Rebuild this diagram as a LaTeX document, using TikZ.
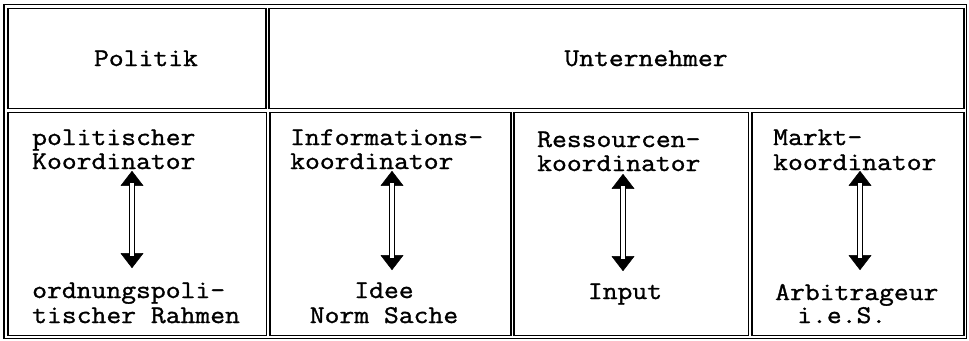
\documentclass[tikz,border=0pt]{standalone}
\usepackage{fontspec}
\newfontfamily\typewriter{Latin Modern Mono}[FakeBold=1.2,FakeStretch=1.13]
\usetikzlibrary{arrows.meta}
\begin{document}
\begin{tikzpicture}[x=1pt,y=-1pt,
  frame/.style={draw, line width=1.1pt},
  cell/.style={draw, line width=1.5pt},
  lbl/.style={font=\typewriter\fontsize{25.5}{25}\selectfont, inner sep=0pt, anchor=base west},
  lblc/.style={lbl, anchor=base},
  shaft/.style={draw, line width=1.1pt, double distance=3.6pt, shorten <=12pt, shorten >=12pt},
  heads/.style={line width=0.5pt, {Triangle[width=23pt,length=15pt,round]}-{Triangle[width=23pt,length=15pt,round]}},
]
\useasboundingbox (0,0) rectangle (969,340);

% outer frame
\draw[frame] (4,4.5) rectangle (966.5,338.5);

% header row
\draw[cell] (8,8.5) rectangle (266,108.5);
\draw[cell] (269,8.5) rectangle (964,108.5);
\node[lblc] (politik) at (146,66) {Politik};
\node[lblc] (untern) at (646,66) {Unternehmer};

% lower row
\draw[cell] (8,112.5) rectangle (266.5,335.5);
\draw[cell] (270,112.5) rectangle (511,335.5);
\draw[cell] (514,112.5) rectangle (748.5,335.5);
\draw[cell] (752,112.5) rectangle (964,335.5);

% political coordinator
\node[lbl] (a1) at (32,145) {politischer};
\node[lbl] (a2) at (32,169) {Koordinator};
\node[lbl] (a3) at (32,298) {ordnungspoli-};
\node[lbl] (a4) at (32,323) {tischer Rahmen};

% information coordinator
\node[lbl] (b1) at (290,145) {Informations-};
\node[lbl] (b2) at (290,169) {koordinator};
\node[lblc] (b3) at (384,298) {Idee};
\node[lblc] (b4) at (384,323) {Norm Sache};

% resource coordinator
\node[lbl] (c1) at (537,147) {Ressourcen-};
\node[lbl] (c2) at (537,171) {koordinator};
\node[lblc] (c3) at (625,299) {Input};

% market coordinator
\node[lbl] (d1) at (773,145) {Markt-};
\node[lbl] (d2) at (773,170) {koordinator};
\node[lbl] (d3) at (775,300) {Arbitrageur};
\node[lbl] (d4) at (797,323) {i.e.S.};

% arrow end points
\coordinate (pa1) at (132,171);
\coordinate (pa2) at (132,268);
\coordinate (pb1) at (392,171);
\coordinate (pb2) at (392,270);
\coordinate (pc1) at (623,174);
\coordinate (pc2) at (623,271);
\coordinate (pd1) at (860,171);
\coordinate (pd2) at (860,270);

% double-shafted arrows
\foreach \p in {a,b,c,d}{
  \draw[heads] (p\p1) -- (p\p2);
  \draw[shaft] (p\p1) -- (p\p2);
}
\end{tikzpicture}
\end{document}
